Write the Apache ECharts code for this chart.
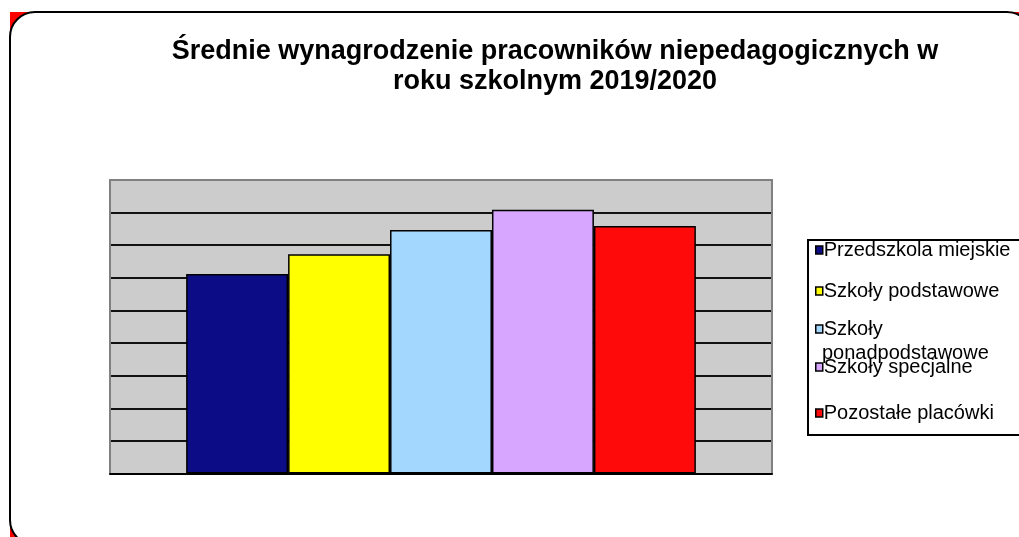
<!DOCTYPE html>
<html>
<head>
<meta charset="utf-8">
<script src="https://cdn.jsdelivr.net/npm/echarts@6/dist/echarts.min.js"></script>
<style>
html,body{margin:0;padding:0;background:#fff;}
#c{width:1019px;height:537px;}
</style>
</head>
<body>
<div id="c"></div>
<script>
const titleText = 'Średnie wynagrodzenie pracowników niepedagogicznych w\nroku szkolnym 2019/2020';
const categories = [''];
const seriesNames = ['Przedszkola miejskie', 'Szkoły podstawowe', 'Szkoły ponadpodstawowe', 'Szkoły specjalne', 'Pozostałe placówki'];
const przedszkola = [3060];
const podstawowe = [3360];
const ponadpodstawowe = [3735];
const specjalne = [4045];
const pozostale = [3795];
const seriesValues = [przedszkola, podstawowe, ponadpodstawowe, specjalne, pozostale];
const colors = ['#0c0c86', '#ffff00', '#a4d7fe', '#d7a6fe', '#fe0a0a'];
const yMin = 0, yMax = 4500, yStep = 500;

const font = '"Liberation Sans", Arial, sans-serif';
const legendCenters = [250, 291, 329, 367, 413];

const chart = echarts.init(document.getElementById('c'), null, {renderer: 'canvas'});

const legends = seriesNames.map((n, i) => ({
  data: [n],
  orient: 'vertical',
  left: 815,
  top: legendCenters[i] - 10,
  padding: 0,
  itemWidth: 7,
  itemHeight: 8,
  icon: 'rect',
  selectedMode: false,
  itemStyle: {borderColor: '#000', borderWidth: 1.5},
  formatter: n === 'Szkoły ponadpodstawowe' ? 'Szkoły' : '{name}',
  textStyle: {fontFamily: font, fontSize: 20, color: '#000', lineHeight: 20, padding: [0, 0, 0, -4]}
}));

chart.setOption({
  animation: false,
  title: {
    text: titleText,
    left: 555,
    top: 37,
    padding: 0,
    textAlign: 'center',
    textStyle: {fontFamily: font, fontSize: 27, fontWeight: 'bold', color: '#000', lineHeight: 30}
  },
  graphic: [
    {type: 'rect', z: -20, silent: true, shape: {x: 10, y: 12, width: 1100, height: 600}, style: {fill: '#ff0000'}},
    {type: 'rect', z: -19, silent: true, shape: {x: 10, y: 12, width: 1022, height: 533, r: 25}, style: {fill: '#fff', stroke: '#000', lineWidth: 2}},
    {type: 'rect', z: 1, silent: true, shape: {x: 808, y: 240, width: 240, height: 195}, style: {fill: '#fff', stroke: '#000', lineWidth: 2}},
    {type: 'text', z: 10, silent: true, x: 822, y: 353, style: {text: 'ponadpodstawowe', font: '20px ' + font, fill: '#000', verticalAlign: 'middle', align: 'left'}}
  ],
  legend: legends,
  grid: {
    left: 110, top: 180, right: 247, bottom: 63.5,
    show: true, backgroundColor: '#cccccc', borderWidth: 0
  },
  xAxis: [
    {type: 'category', data: categories, axisLabel: {show: false}, axisTick: {show: false},
     axisLine: {show: true, onZero: false, lineStyle: {color: '#000', width: 2}}, z: 5},
    {type: 'category', data: categories, position: 'top', axisLabel: {show: false}, axisTick: {show: false},
     axisLine: {show: true, onZero: false, lineStyle: {color: '#808080', width: 2}}, z: 5}
  ],
  yAxis: [
    {type: 'value', min: yMin, max: yMax, interval: yStep, axisLabel: {show: false}, axisTick: {show: false},
     axisLine: {show: true, onZero: false, lineStyle: {color: '#808080', width: 2}},
     splitLine: {show: true, showMinLine: false, showMaxLine: false, lineStyle: {color: '#111', width: 2}}},
    {type: 'value', min: yMin, max: yMax, interval: yStep, position: 'right', axisLabel: {show: false}, axisTick: {show: false},
     axisLine: {show: true, onZero: false, lineStyle: {color: '#808080', width: 2}}, splitLine: {show: false}, z: 5}
  ],
  series: seriesNames.map((n, i) => ({
    name: n,
    type: 'bar',
    xAxisIndex: 0,
    yAxisIndex: 0,
    data: seriesValues[i],
    barGap: '0%',
    barCategoryGap: '23%',
    itemStyle: {color: colors[i], borderColor: '#000', borderWidth: 1.5},
    z: 3
  }))
});
</script>
</body>
</html>
